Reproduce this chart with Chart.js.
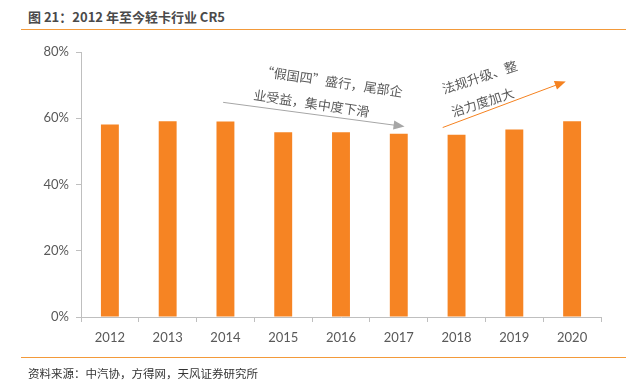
<!DOCTYPE html>
<html>
<head>
<meta charset="utf-8">
<script src="https://cdn.jsdelivr.net/npm/chart.js@4"></script>
<style>
  html, body { margin: 0; padding: 0; background: #fff; }
  #wrap { position: relative; width: 626px; height: 390px; overflow: hidden; }
  #title { position: absolute; left: 28px; top: 7px; font: bold 13px "Noto Sans CJK SC", sans-serif; color: #4a4a4a; white-space: nowrap; }
  #topline { position: absolute; left: 21px; right: 0; top: 29px; height: 0; border-top: 1.5px solid #F39A3A; }
  #botline { position: absolute; left: 21px; right: 0; top: 357px; height: 0; border-top: 1.5px solid #F39A3A; }
  #source { position: absolute; left: 28px; top: 365px; font: 11.5px "Noto Sans CJK SC", sans-serif; color: #333; white-space: nowrap; }
  #chart { position: absolute; left: 0; top: 0; }
</style>
</head>
<body>
<div id="wrap">
  <div id="title">图 21：2012 年至今轻卡行业 CR5</div>
  <div id="topline"></div>
  <canvas id="chart" width="626" height="390"></canvas>
  <div id="botline"></div>
  <div id="source">资料来源：中汽协，方得网，天风证券研究所</div>
</div>
<script>
// Data
const years = ['2012', '2013', '2014', '2015', '2016', '2017', '2018', '2019', '2020'];
const cr5 = [58.1, 59.1, 59.0, 55.8, 55.8, 55.3, 55.0, 56.6, 59.1];
const yTicks = [0, 20, 40, 60, 80];

// annotation texts, each line anchored in data space (category index, %)
const grayNote = ['“假国四”盛行，尾部企', '业受益，集中度下滑'];
const grayNotePos = [[3.84, 71.1], [3.49, 64.5]];
const orangeNote = ['法规升级、整', '治力度加大'];
const orangeNotePos = [[6.40, 72.4], [6.45, 64.8]];

function arrow(ctx, x1, y1, x2, y2, color) {
    const ang = Math.atan2(y2 - y1, x2 - x1);
    const head = 11;
    ctx.save();
    ctx.strokeStyle = color;
    ctx.fillStyle = color;
    ctx.lineWidth = 1;
    ctx.beginPath();
    ctx.moveTo(x1, y1);
    ctx.lineTo(x2 - head * Math.cos(ang) * 0.8, y2 - head * Math.sin(ang) * 0.8);
    ctx.stroke();
    ctx.translate(x2, y2);
    ctx.rotate(ang);
    ctx.beginPath();
    ctx.moveTo(0, 0);
    ctx.lineTo(-head, -4.5);
    ctx.lineTo(-head, 4.5);
    ctx.closePath();
    ctx.fill();
    ctx.restore();
}

function note(ctx, text, cx, cy, rot) {
    ctx.save();
    ctx.translate(cx, cy);
    ctx.rotate(rot * Math.PI / 180);
    ctx.font = '13px "Noto Sans CJK SC", sans-serif';
    ctx.fillStyle = '#595959';
    ctx.textAlign = 'center';
    ctx.textBaseline = 'middle';
    ctx.fillText(text, 0, 0);
    ctx.restore();
}

const annotations = {
    id: 'annotations',
    afterDraw(chart) {
        const ctx = chart.ctx;
        const x = chart.scales.x, y = chart.scales.y;
        const px = v => x.getPixelForValue(0) + v * (x.getPixelForValue(1) - x.getPixelForValue(0));
        arrow(ctx, px(1.96), y.getPixelForValue(64.8), px(5.10), y.getPixelForValue(57.5), '#a6a6a6');
        arrow(ctx, px(5.76), y.getPixelForValue(57.2), px(7.89), y.getPixelForValue(71.1), '#F58220');
        grayNote.forEach((t, i) => note(ctx, t, px(grayNotePos[i][0]), y.getPixelForValue(grayNotePos[i][1]), 8.5));
        orangeNote.forEach((t, i) => note(ctx, t, px(orangeNotePos[i][0]), y.getPixelForValue(orangeNotePos[i][1]), -18));
    }
};

new Chart(document.getElementById('chart'), {
    type: 'bar',
    data: {
        labels: years,
        datasets: [{
            label: 'CR5',
            data: cr5,
            backgroundColor: '#F68423',
            borderWidth: 0,
            categoryPercentage: 0.31,
            barPercentage: 1
        }]
    },
    options: {
        responsive: false,
        animation: false,
        layout: { padding: { left: 0, top: 52, right: 25, bottom: 38 } },
        plugins: {
            legend: { display: false },
            tooltip: { enabled: false }
        },
        scales: {
            x: {
                grid: { display: true, drawOnChartArea: false, drawTicks: true, tickLength: 5, color: '#bfbfbf' },
                border: { display: true, color: '#bfbfbf' },
                ticks: { color: '#595959', font: { family: 'Lato', size: 13 }, padding: 8 },
                afterFit: s => { s.height = 35; }
            },
            y: {
                min: 0,
                max: 80,
                afterBuildTicks: s => { s.ticks = yTicks.map(v => ({ value: v })); },
                grid: { display: true, drawOnChartArea: false, drawTicks: true, tickLength: 5, color: '#bfbfbf' },
                border: { display: true, color: '#bfbfbf' },
                ticks: { color: '#595959', font: { family: 'Lato', size: 13 }, padding: 7, callback: v => v + '%' },
                afterFit: s => { s.width = 81; }
            }
        }
    },
    plugins: [annotations]
});
</script>
</body>
</html>
